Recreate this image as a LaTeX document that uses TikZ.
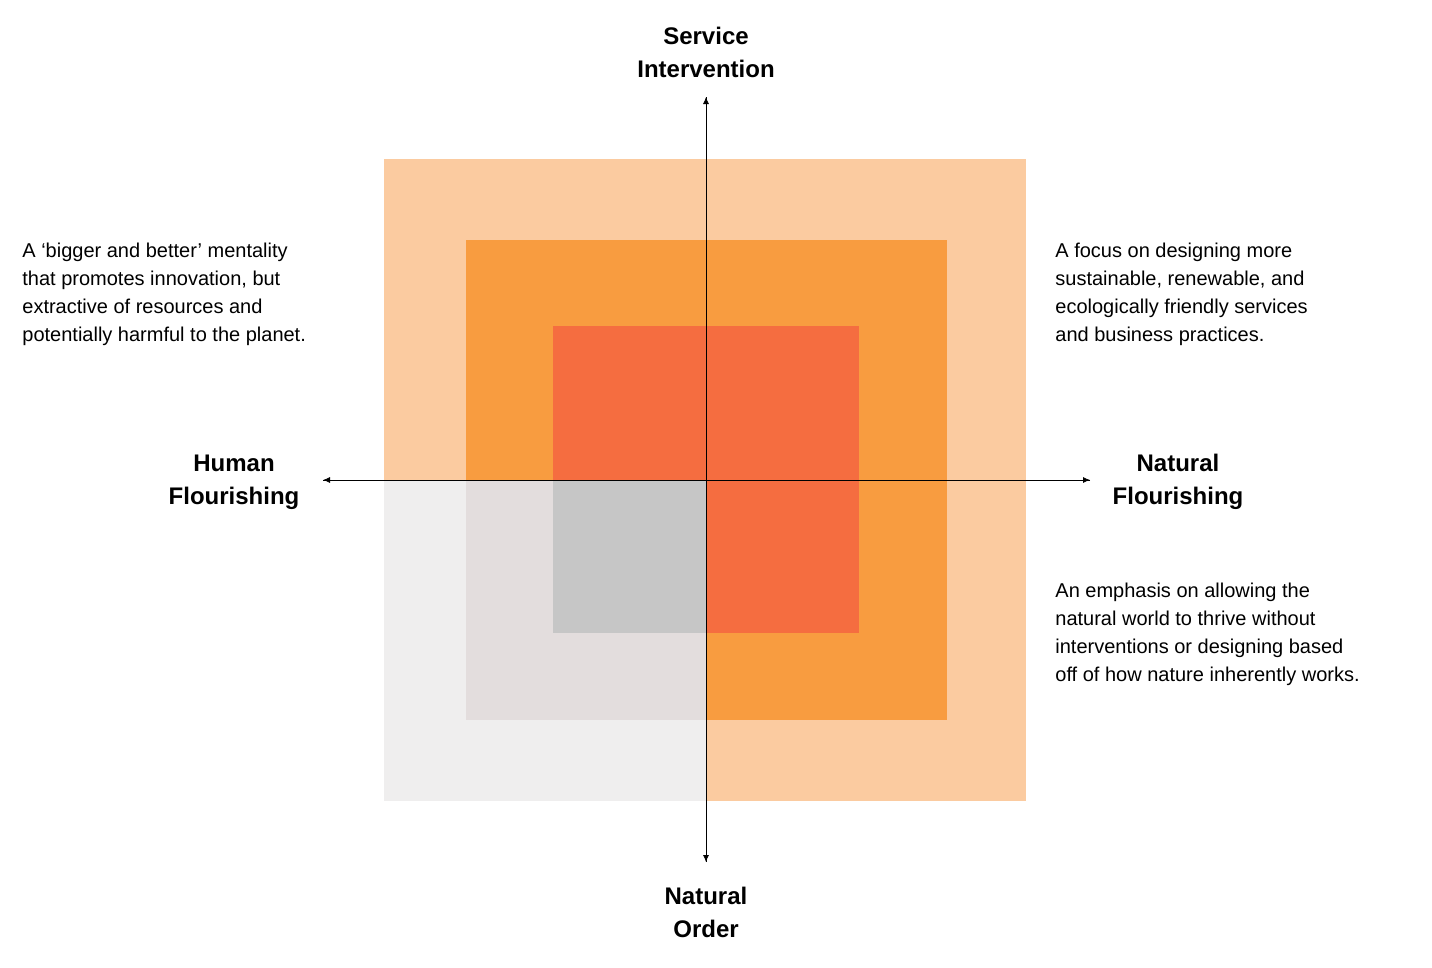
\documentclass[tikz,border=0pt]{standalone}
\usepackage{fontspec}
\setmainfont{Liberation Sans}
\usetikzlibrary{arrows.meta}
\definecolor{outerO}{RGB}{251,203,160}
\definecolor{midO}{RGB}{248,156,64}
\definecolor{innerO}{RGB}{245,109,64}
\definecolor{outerG}{RGB}{239,238,238}
\definecolor{midG}{RGB}{227,221,221}
\definecolor{innerG}{RGB}{198,198,198}
\tikzset{
  axislabel/.style={font=\fontsize{24}{33}\selectfont\bfseries, align=center, inner sep=0pt},
  note/.style={font=\fontsize{20}{28}\selectfont, align=left, anchor=north west, inner sep=0pt}
}
\begin{document}
\begin{tikzpicture}[x=1pt, y=-1pt, thick]
\useasboundingbox (0,0) rectangle (1432,967);

% Squares
\fill[outerO] (384,159) rectangle (1026,801);
\fill[midO] (466,240) rectangle (947,720);
\fill[innerO] (553,326) rectangle (859,633);
\fill[outerG] (384,480) rectangle (706,801);
\fill[midG] (466,480) rectangle (706,720);
\fill[innerG] (553,480) rectangle (706,633);

% Axes
\coordinate (top) at (706,97);
\coordinate (bottom) at (706,862);
\coordinate (left) at (323,480);
\coordinate (right) at (1090,480);
\draw[-{Latex[length=7pt,width=6pt]}] (bottom) -- (top);
\draw[-{Latex[length=7pt,width=6pt]}] (top) -- (bottom);
\draw[-{Latex[length=7pt,width=6pt]}] (right) -- (left);
\draw[-{Latex[length=7pt,width=6pt]}] (left) -- (right);

% Labels
\node[axislabel] (service) at (706,52) {Service\\Intervention};
\node[axislabel] (order) at (706,912) {Natural\\Order};
\node[axislabel] (human) at (234,482) {Human\\Flourishing};
\node[axislabel] (natural) at (1178,482) {Natural\\Flourishing};

% Notes
\node[note] (bigger) at (22,243) {A ‘bigger and better’ mentality\\that promotes innovation, but\\extractive of resources and\\potentially harmful to the planet.};
\node[note] (focus) at (1055,243) {A focus on designing more\\sustainable, renewable, and\\ecologically friendly services\\and business practices.};
\node[note] (emphasis) at (1055,583) {An emphasis on allowing the\\natural world to thrive without\\interventions or designing based\\off of how nature inherently works.};
\end{tikzpicture}
\end{document}
